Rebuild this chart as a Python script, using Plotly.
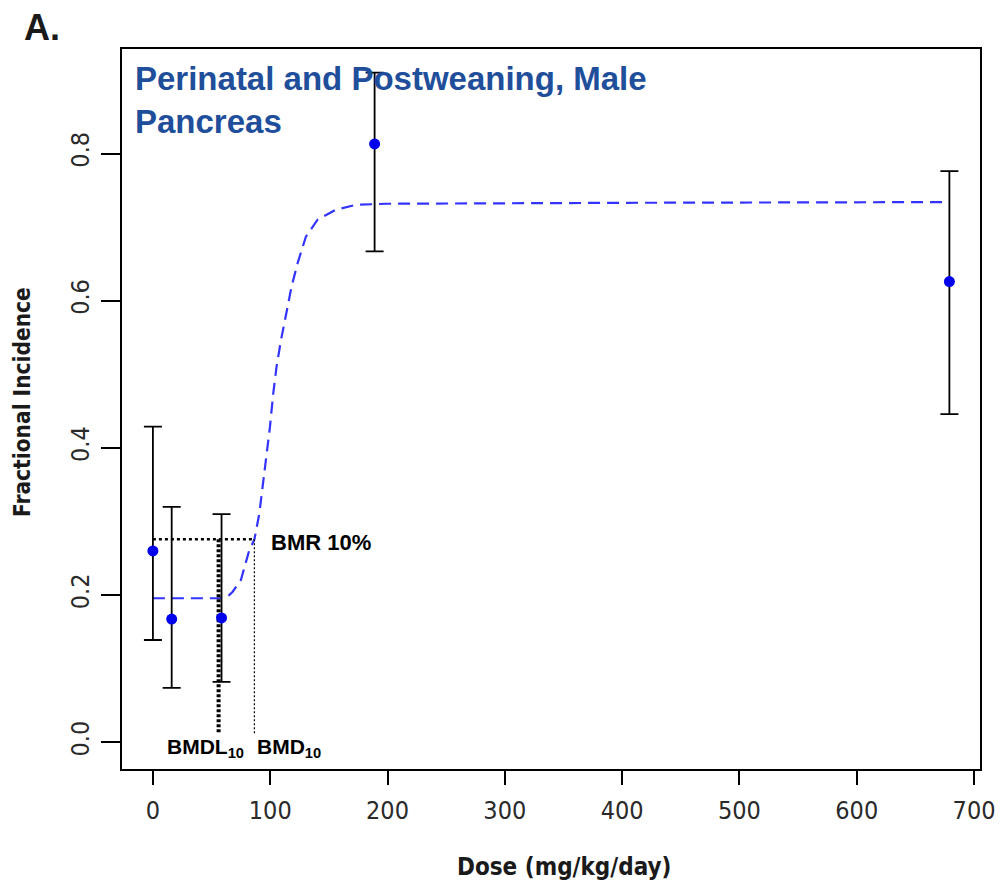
import plotly.graph_objects as go

# ---- data ----
dose = [0, 16, 58.5, 189, 679]
incidence = [0.260, 0.1675, 0.169, 0.813, 0.626]
ci_upper = [0.429, 0.320, 0.310, 0.910, 0.776]
ci_lower = [0.139, 0.074, 0.082, 0.667, 0.446]

curve_dose = [0, 30, 58, 62, 65, 68, 75, 82.2, 86.5, 90.7, 94.4, 97.8, 99.8, 102.6,
              105.4, 109.2, 113.4, 118.2, 123.3, 130.4, 140.3, 155.9, 172.9, 198.4, 400, 679]
curve_resp = [0.1957, 0.1957, 0.1957, 0.197, 0.200, 0.2046, 0.2205, 0.2613, 0.2755, 0.3108,
              0.3564, 0.4016, 0.4288, 0.4742, 0.5103, 0.5466, 0.5829, 0.619, 0.6508, 0.687,
              0.710, 0.7235, 0.7303, 0.7317, 0.733, 0.734]

bmr_level = 0.276
bmd = 86.5
bmdl = 56.0
line_floor = 0.011

x_ticks = [0, 100, 200, 300, 400, 500, 600, 700]
y_ticks = [0.0, 0.2, 0.4, 0.6, 0.8]
y_ticklabels = ["0.0", "0.2", "0.4", "0.6", "0.8"]

title_text = "Perinatal and Postweaning, Male<br>Pancreas"
x_title = "Dose (mg/kg/day)"
y_title = "Fractional Incidence"

# ---- layout geometry (target pixels in the window) ----
OFF = 8  # default page body margin
W, H = 1007, 886
L, R, T, B = 122.3, 982.7, 49, 769
NARROW = "Liberation Sans Narrow, DejaVu Sans Condensed, Roboto Condensed, Liberation Sans, Arial, sans-serif"
SANS = "Liberation Sans, Arial, sans-serif"


def px_x(p):
    return (p - L) / (R - L)


def px_y(p):
    return (B - p) / (B - T)


fig = go.Figure()

# fitted curve
fig.add_trace(go.Scatter(
    x=curve_dose, y=curve_resp, mode="lines",
    line=dict(color="#3333FF", width=2.2, dash="12px,7px"),
    hoverinfo="skip", showlegend=False))

# BMR horizontal
fig.add_trace(go.Scatter(
    x=[0, bmd], y=[bmr_level, bmr_level], mode="lines",
    line=dict(color="black", width=2.5, dash="3px,3px"),
    hoverinfo="skip", showlegend=False))
# BMDL vertical (thick dotted)
fig.add_trace(go.Scatter(
    x=[bmdl, bmdl], y=[bmr_level, line_floor], mode="lines",
    line=dict(color="black", width=4, dash="3px,2px"),
    hoverinfo="skip", showlegend=False))
# BMD vertical (thin dotted)
fig.add_trace(go.Scatter(
    x=[bmd, bmd], y=[bmr_level, line_floor], mode="lines",
    line=dict(color="black", width=1.2, dash="2px,2px"),
    hoverinfo="skip", showlegend=False))

# data points with CIs
fig.add_trace(go.Scatter(
    x=dose, y=incidence, mode="markers",
    marker=dict(color="#0000EE", size=11, line=dict(width=0)),
    error_y=dict(type="data", symmetric=False,
                 array=[u - v for u, v in zip(ci_upper, incidence)],
                 arrayminus=[v - l for v, l in zip(incidence, ci_lower)],
                 color="black", thickness=1.8, width=9),
    showlegend=False))

x_min = (L - 153.3) / 1.1763
x_max = (R - 153.3) / 1.1763
y_min = (742.3 - B) / 736
y_max = (742.3 - T) / 736

fig.update_layout(
    width=W - OFF, height=H - OFF,
    margin=dict(l=L - OFF, r=W - R, t=T - OFF, b=H - B, pad=0),
    paper_bgcolor="white", plot_bgcolor="white",
    showlegend=False,
    xaxis=dict(range=[x_min, x_max], tickvals=x_ticks, ticks="outside", ticklen=14,
               tickwidth=1.8, tickcolor="black", showline=True, mirror=True,
               linecolor="black", linewidth=2, showgrid=False, zeroline=False,
               ticklabelstandoff=4,
               tickfont=dict(family=NARROW, size=25, color="#2a2a2a")),
    yaxis=dict(range=[y_min, y_max], tickvals=y_ticks, ticktext=y_ticklabels,
               ticks="outside", ticklen=19, tickwidth=1.8, tickcolor="black",
               tickangle=-90, showline=True, mirror=True, linecolor="black",
               linewidth=2, showgrid=False, zeroline=False, ticklabelstandoff=2,
               tickfont=dict(family=NARROW, size=25, color="#2a2a2a")),
    annotations=[
        dict(text="<b>A.</b>", xref="paper", yref="paper", x=px_x(22), y=px_y(27),
             xanchor="left", yanchor="middle", showarrow=False,
             font=dict(family=SANS, size=36, color="#1a1a1a")),
        dict(text="<b>" + title_text + "</b>", xref="paper", yref="paper",
             x=px_x(133), y=px_y(58), xanchor="left", yanchor="top", align="left",
             showarrow=False, font=dict(family=SANS, size=33, color="#1F4E9B")),
        dict(text="<b>BMR 10%</b>", xref="paper", yref="paper", x=px_x(270), y=px_y(542),
             xanchor="left", yanchor="middle", showarrow=False,
             font=dict(family=SANS, size=22, color="black")),
        dict(text="<b>BMDL<sub>10</sub></b>", xref="paper", yref="paper", x=px_x(165), y=px_y(748),
             xanchor="left", yanchor="middle", showarrow=False,
             font=dict(family=SANS, size=21, color="black")),
        dict(text="<b>BMD<sub>10</sub></b>", xref="paper", yref="paper", x=px_x(256), y=px_y(748),
             xanchor="left", yanchor="middle", showarrow=False,
             font=dict(family=SANS, size=21, color="black")),
        dict(text="<b>" + x_title + "</b>", xref="paper", yref="paper", x=px_x(566), y=px_y(867),
             xanchor="center", yanchor="middle", showarrow=False,
             font=dict(family=NARROW, size=24, color="#1a1a1a")),
        dict(text="<b>" + y_title + "</b>", xref="paper", yref="paper", x=px_x(22), y=px_y(402),
             xanchor="center", yanchor="middle", textangle=-90, showarrow=False,
             font=dict(family=NARROW, size=22.5, color="#1a1a1a")),
    ],
)

fig.write_html("out.html")
